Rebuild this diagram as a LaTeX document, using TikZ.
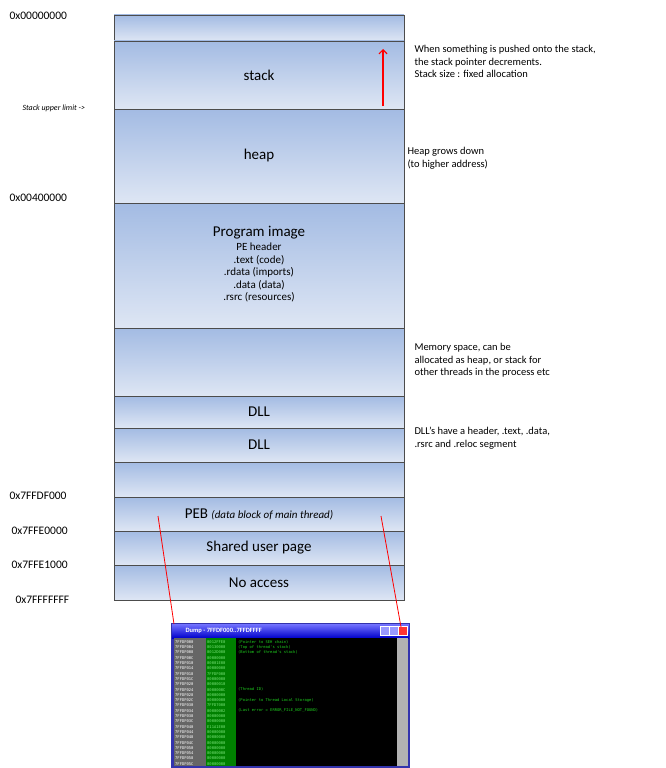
\documentclass[tikz,border=0pt]{standalone}
\usepackage{fontspec}
\setmainfont{Carlito}
\newfontfamily\dumpfont{DejaVu Sans Mono}
\usetikzlibrary{arrows.meta}
\definecolor{segtop}{HTML}{A3BBE3}
\definecolor{segbot}{HTML}{DEE6F4}
\definecolor{dumpgreen}{HTML}{1FD21F}
\tikzset{
  seg/.style={draw=black!70, line width=0.8pt, top color=segtop, bottom color=segbot},
  addr/.style={anchor=west, font=\fontsize{11.5}{13}\selectfont},
  note/.style={anchor=north west, align=left, font=\fontsize{10.5}{12.3}\selectfont},
  segtxt/.style={font=\fontsize{15}{17}\selectfont},
  dump/.style={anchor=west, inner sep=0pt, font=\dumpfont\fontsize{3.8}{4}\selectfont},
}
\begin{document}
\begin{tikzpicture}[x=1pt,y=-1pt]
    \useasboundingbox (0,0) rectangle (665,768);
    % memory segments
    \foreach \name/\ya/\yb in {top/15/41, stack/41/109, heap/109/203, img/203/328, free/328/396, dlla/396/428, dllb/428/462, gap/462/497, peb/497/531, shared/531/565, noacc/565/600} {
            \draw[seg] (114,\ya) rectangle (404,\yb);
            \coordinate (\name) at (259,{(\ya+\yb)/2});
        }
    \node[segtxt] (stacktxt) at (stack) {stack};
    \node[segtxt] (heaptxt) at (heap) {heap};
    \node[align=center, font=\fontsize{11}{16.5}\selectfont] (imgtxt) at (259,264) {{\fontsize{15}{17}\selectfont Program image}\\[-2pt]PE header\\[-4pt].text (code)\\[-4pt].rdata (imports)\\[-4pt].data (data)\\[-4pt].rsrc (resources)};
    \node[segtxt] (dllatxt) at (dlla) {DLL};
    \node[segtxt] (dllbtxt) at (dllb) {DLL};
    \node[segtxt] (pebtxt) at (peb) {PEB {\itshape\fontsize{11}{13}\selectfont (data block of main thread)}};
    \node[segtxt] (sharedtxt) at (shared) {Shared user page};
    \node[segtxt] (noacctxt) at (noacc) {No access};
    % stack pointer arrow
    \coordinate (spa) at (383,106);
    \coordinate (spb) at (383,49);
    \draw[red, line width=1.2pt, -{Straight Barb[length=4pt]}] (spa) -- (spb);
    % addresses
    \node[addr] (a0) at (6,16) {0x00000000};
    \node[addr, font=\itshape\fontsize{8}{9}\selectfont] (lim) at (19,108) {Stack upper limit ->};
    \node[addr] (a1) at (6,198) {0x00400000};
    \node[addr] (a2) at (6,496) {0x7FFDF000};
    \node[addr] (a3) at (8,531) {0x7FFE0000};
    \node[addr] (a4) at (8,565) {0x7FFE1000};
    \node[addr] (a5) at (12,600) {0x7FFFFFFF};
    % notes
    \node[note] (n1) at (411,42) {When something is pushed onto the stack,\\the stack pointer decrements.\\Stack size : fixed allocation};
    \node[note] (n2) at (404,144) {Heap grows down\\(to higher address)};
    \node[note] (n3) at (411,340) {Memory space, can be\\allocated as heap, or stack for\\other threads in the process etc};
    \node[note] (n4) at (411,424) {DLL's have a header, .text, .data,\\.rsrc and .reloc segment};
    % dump window
    \fill[blue!60!black!80] (171,623) rectangle (410,768);
    \shade[top color=blue!55, bottom color=blue!80!black] (172,624) rectangle (409,638);
    \node[anchor=west, white, font=\bfseries\fontsize{6.5}{7}\selectfont] (dumptitle) at (182,631) {Dump - 7FFDF000..7FFDFFFF};
    \foreach \bx/\bc in {380/blue!40, 389/blue!40, 398/red!80} {
            \fill[\bc, draw=white] (\bx,626) rectangle ++(9,9);
        }
    \fill[black] (174,638) rectangle (397,766);
    \fill[gray!60] (397,638) rectangle (408,766);
    \fill[black!60] (174,638) rectangle (206,766);
    \fill[green!50!black] (206,638) rectangle (236,766);
    \foreach \i/\ad/\val/\cmt in {0/000/0012FFE0/(Pointer to SEH chain), 1/004/00130000/(Top of thread's stack), 2/008/0012D000/(Bottom of thread's stack), 3/00C/00000000/, 4/010/00001E00/, 5/014/00000000/, 6/018/7FFDF000/, 7/01C/00000000/, 8/020/00000010/, 9/024/0000000C/(Thread ID), 10/028/00000000/, 11/02C/00000000/(Pointer to Thread Local Storage), 12/030/7FFD7000/, 13/034/00000002/(Last error = ERROR\_FILE\_NOT\_FOUND), 14/038/00000000/, 15/03C/00000000/, 16/040/E11A1E00/, 17/044/00000000/, 18/048/00000000/, 19/04C/00000000/, 20/050/00000000/, 21/054/00000000/, 22/058/00000000/, 23/05C/00000000/} {
            \pgfmathsetmacro{\yy}{642+5.3*\i}
            \node[dump, white] at (175,\yy) {7FFDF\ad};
            \node[dump, dumpgreen!60!white] at (207,\yy) {\val};
            \node[dump, dumpgreen] at (238,\yy) {\cmt};
        }
    % pointer lines
    \coordinate (pl) at (158,516);
    \coordinate (pr) at (381,516);
    \coordinate (dl) at (174,624);
    \coordinate (dr) at (401,627);
    \draw[red, line width=0.8pt] (pl) -- (dl);
    \draw[red, line width=0.8pt] (pr) -- (dr);
\end{tikzpicture}
\end{document}
